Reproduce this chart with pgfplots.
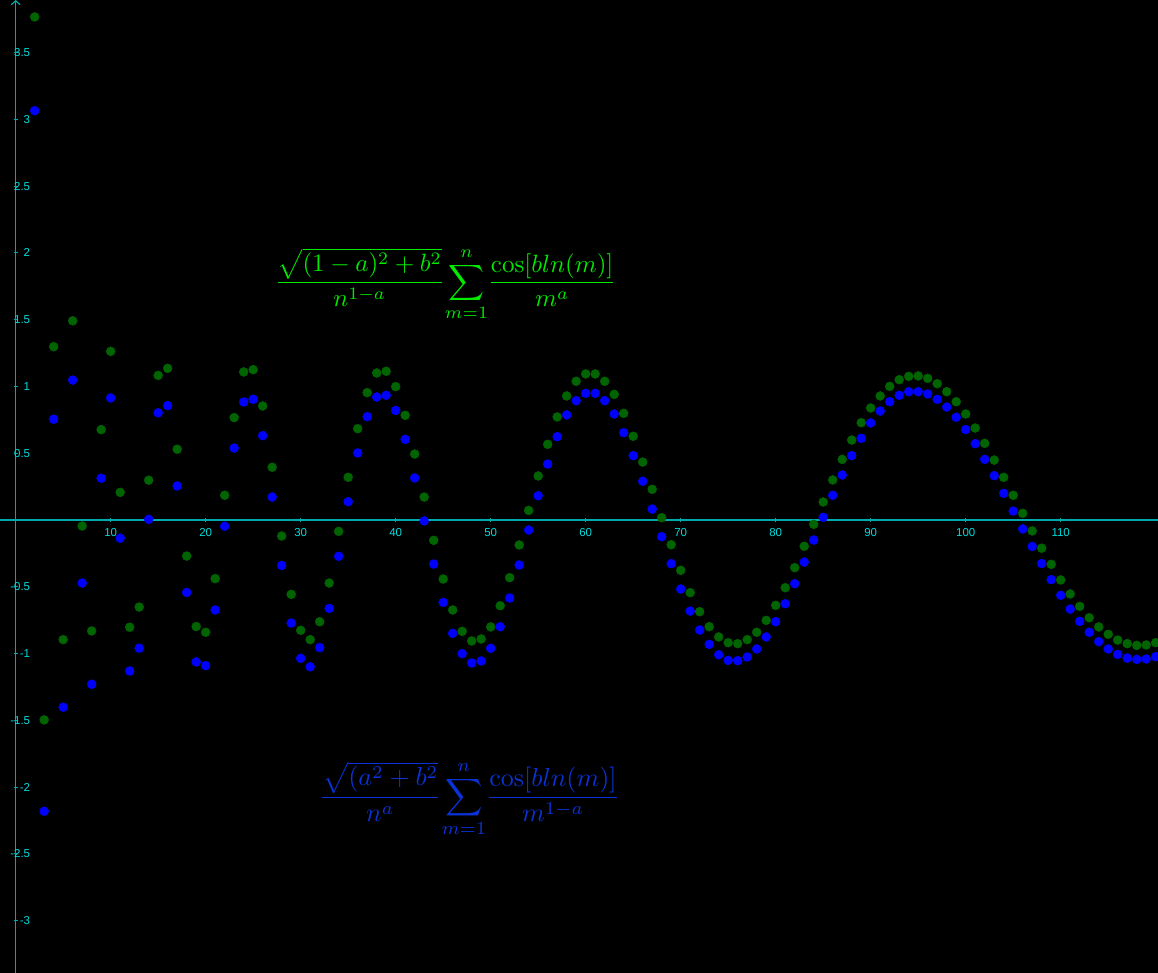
\documentclass[border=0pt]{standalone}
\usepackage[no-math]{fontspec}
\usepackage{graphicx}
\usepackage{pgfplots}
\pgfplotsset{compat=1.18}
\usetikzlibrary{arrows.meta}
\newfontfamily\ggb{Liberation Sans}
\definecolor{axcol}{RGB}{0,170,170}
\definecolor{labcol}{RGB}{0,220,220}
\definecolor{gdot}{RGB}{0,100,0}
\definecolor{bdot}{RGB}{0,0,255}
\definecolor{gform}{RGB}{0,235,0}
\definecolor{bform}{RGB}{10,50,215}
\pgfplotstableread{
n v
2 3.768
3 -1.497
4 1.298
5 -0.896
6 1.492
7 -0.045
8 -0.831
9 0.677
10 1.263
11 0.207
12 -0.803
13 -0.652
14 0.298
15 1.083
16 1.136
17 0.530
18 -0.270
19 -0.798
20 -0.841
21 -0.439
22 0.185
23 0.767
24 1.109
25 1.126
26 0.854
27 0.395
28 -0.120
29 -0.557
30 -0.826
31 -0.896
32 -0.762
33 -0.472
34 -0.085
35 0.320
36 0.684
37 0.954
38 1.101
39 1.114
40 0.999
41 0.784
42 0.494
43 0.172
44 -0.152
45 -0.442
46 -0.674
47 -0.834
48 -0.906
49 -0.891
50 -0.801
51 -0.642
52 -0.432
53 -0.187
54 0.072
55 0.330
56 0.567
57 0.772
58 0.929
59 1.039
60 1.094
61 1.094
62 1.039
63 0.941
64 0.799
65 0.627
66 0.434
67 0.230
68 0.017
69 -0.185
70 -0.377
71 -0.544
72 -0.687
73 -0.799
74 -0.876
75 -0.919
76 -0.926
77 -0.896
78 -0.841
79 -0.752
80 -0.639
81 -0.507
82 -0.357
83 -0.197
84 -0.032
85 0.135
86 0.300
87 0.454
88 0.599
89 0.729
90 0.839
91 0.929
92 1.001
93 1.051
94 1.076
95 1.079
96 1.061
97 1.021
98 0.961
99 0.886
100 0.794
101 0.689
102 0.574
103 0.449
104 0.320
105 0.185
106 0.050
107 -0.082
108 -0.211
109 -0.332
110 -0.449
111 -0.554
112 -0.647
113 -0.732
114 -0.801
115 -0.856
116 -0.899
117 -0.926
118 -0.939
119 -0.936
120 -0.919
}\greendata
\pgfplotstableread{
n v
2 3.066
3 -2.182
4 0.755
5 -1.402
6 1.048
7 -0.472
8 -1.230
9 0.313
10 0.914
11 -0.136
12 -1.131
13 -0.960
14 0.005
15 0.803
16 0.856
17 0.255
18 -0.543
19 -1.063
20 -1.091
21 -0.674
22 -0.047
23 0.539
24 0.884
25 0.904
26 0.632
27 0.172
28 -0.340
29 -0.772
30 -1.036
31 -1.099
32 -0.956
33 -0.662
34 -0.272
35 0.137
36 0.502
37 0.774
38 0.921
39 0.934
40 0.821
41 0.604
42 0.315
43 -0.007
44 -0.330
45 -0.617
46 -0.849
47 -1.001
48 -1.071
49 -1.056
50 -0.961
51 -0.799
52 -0.584
53 -0.337
54 -0.075
55 0.182
56 0.419
57 0.624
58 0.787
59 0.894
60 0.949
61 0.949
62 0.894
63 0.794
64 0.654
65 0.482
66 0.290
67 0.082
68 -0.125
69 -0.327
70 -0.517
71 -0.682
72 -0.824
73 -0.931
74 -1.009
75 -1.051
76 -1.054
77 -1.026
78 -0.966
79 -0.876
80 -0.762
81 -0.627
82 -0.477
83 -0.315
84 -0.150
85 0.020
86 0.185
87 0.337
88 0.482
89 0.612
90 0.727
91 0.816
92 0.886
93 0.934
94 0.961
95 0.961
96 0.944
97 0.904
98 0.846
99 0.769
100 0.677
101 0.572
102 0.454
103 0.332
104 0.200
105 0.067
106 -0.067
107 -0.198
108 -0.326
109 -0.447
110 -0.564
111 -0.667
112 -0.759
113 -0.841
114 -0.911
115 -0.966
116 -1.006
117 -1.034
118 -1.044
119 -1.041
120 -1.024
}\bluedata
\begin{document}
\begin{tikzpicture}
\fill[black] (0,0) rectangle (1158pt,973pt);
\begin{axis}[
  at={(0,0)}, anchor=south west,
  scale only axis, width=1158pt, height=973pt,
  xmin=-1.65, xmax=120.24, ymin=-3.393, ymax=3.895,
  axis lines=middle,
  x axis line style={-, color=axcol, line width=1.2pt},
  y axis line style={-{Straight Barb[length=4pt,width=9pt]}, color=axcol, line width=1.2pt},
  xtick={10,20,...,110},
  ytick={-3,-2.5,-2,-1.5,-1,-0.5,0.5,1,1.5,2,2.5,3,3.5},
  tick style={color=axcol, line width=1pt},
  major tick length=4pt,
  /pgf/number format/assume math mode=true,
  ticklabel style={font=\ggb\fontsize{11.5}{13}\selectfont, text=labcol},
  xticklabel style={anchor=north, yshift=-2.5pt},
  yticklabel style={anchor=east, xshift=20pt},
]
\addplot[only marks, mark=*, mark size=4.5pt, mark options={fill=gdot, draw=gdot}] table[x=n, y=v] {\greendata};
\addplot[only marks, mark=*, mark size=4.5pt, mark options={fill=bdot, draw=bdot}] table[x=n, y=v] {\bluedata};
\node[text=gform, inner sep=0pt, anchor=center] at (axis cs:45.24,1.765)
  {\scalebox{2.5}{$\displaystyle \frac{\sqrt{(1-a)^2+b^2}}{n^{1-a}}\!\sum_{m=1}^{n}\!\frac{\cos[bln(m)]}{m^{a}}$}};
\node[text=bform, inner sep=0pt, anchor=center] at (axis cs:47.77,-2.09)
  {\scalebox{2.6}{$\displaystyle \frac{\sqrt{(a^2+b^2}}{n^{a}}\!\sum_{m=1}^{n}\!\frac{\cos[bln(m)]}{m^{1-a}}$}};
\end{axis}
\pgfresetboundingbox
\useasboundingbox (0,0) rectangle (1158pt,973pt);
\end{tikzpicture}
\end{document}
